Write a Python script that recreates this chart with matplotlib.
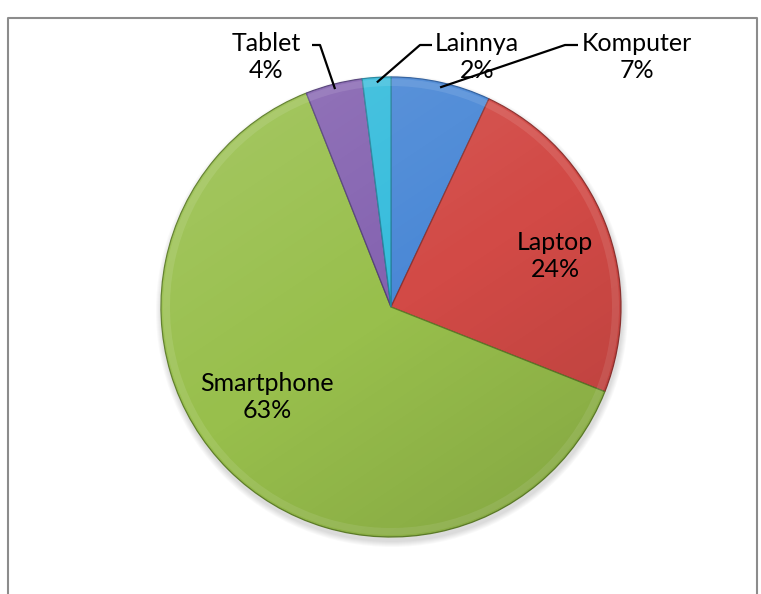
import numpy as np
import matplotlib
matplotlib.use("Agg")
import matplotlib.pyplot as plt
from matplotlib.patches import Wedge, Circle

categories = ["Komputer", "Laptop", "Smartphone", "Tablet", "Lainnya"]
values = [7, 24, 63, 4, 2]
colors = ["#4a88d6", "#d24a46", "#98bf4c", "#8462b0", "#35bcdc"]
edge_colors = ["#2f5f9e", "#8e3230", "#5f7f2a", "#54407a", "#23869e"]

plt.rcParams['font.family'] = ['Lato', 'DejaVu Sans']

W, H = 761, 594
fig = plt.figure(figsize=(W / 100, H / 100), dpi=100)
ax = fig.add_axes([0, 0, 1, 1])

cx, cy, r = 391, H - 307, 230

# soft shadow
for i in range(6):
    sh = Circle((cx + 1, cy - 4), r + 6 - i, color='black', alpha=0.025, lw=0, zorder=0)
    ax.add_patch(sh)

wedges, _ = ax.pie(values, colors=colors, startangle=90, counterclock=False,
                   center=(cx, cy), radius=r,
                   wedgeprops=dict(linewidth=0.9))
for w, ec in zip(wedges, edge_colors):
    w.set_zorder(2)
    w.set_edgecolor(ec)

# bevel highlight near the outer rim
for w in wedges:
    hl = Wedge((cx, cy), r - 2, w.theta1, w.theta2, width=7, facecolor='white', alpha=0.10,
               linewidth=0, zorder=3)
    ax.add_patch(hl)

# lighting gradient: light top-left, darker bottom-right
n = 300
yy, xx = np.mgrid[0:1:n * 1j, 0:1:n * 1j]
light = np.zeros((n, n, 4))
t = (yy * 0.6 - xx * 0.4)
t = (t - t.min()) / (t.max() - t.min())
light[..., :3] = np.where(t[..., None] > 0.5, 1.0, 0.0)
light[..., 3] = np.abs(t - 0.5) * 0.28
im = ax.imshow(light, extent=(cx - r, cx + r, cy - r, cy + r), origin='lower',
               zorder=3.5, interpolation='bilinear')
clip = Circle((cx, cy), r, transform=ax.transData)
im.set_clip_path(clip)

fs = 18
ls = 1.25
total = sum(values)

def mid_angle(i):
    start = 90 - sum(values[:i]) / total * 360
    end = 90 - sum(values[:i + 1]) / total * 360
    return np.deg2rad((start + end) / 2)

# inside labels
ax.text(555, H - 256, f"{categories[1]}\n{values[1]}%", ha='center', va='center',
        fontsize=fs, linespacing=ls, zorder=5)
ax.text(267, H - 397, f"{categories[2]}\n{values[2]}%", ha='center', va='center',
        fontsize=fs, linespacing=ls, zorder=5)

# outside labels with leader lines
outside = {
    0: dict(text_xy=(637, H - 57), elbow=[(578, H - 45), (565, H - 45)]),
    3: dict(text_xy=(266, H - 57), elbow=[(312, H - 45), (320, H - 45)]),
    4: dict(text_xy=(477, H - 57), elbow=[(432, H - 45), (420, H - 45)]),
}
for i, d in outside.items():
    ax.text(d['text_xy'][0], d['text_xy'][1], f"{categories[i]}\n{values[i]}%",
            ha='center', va='center', fontsize=fs, linespacing=ls, zorder=5)
    a = mid_angle(i)
    ex, ey = cx + (r - 5) * np.cos(a), cy + (r - 5) * np.sin(a)
    xs = [d['elbow'][0][0], d['elbow'][1][0], ex]
    ys = [d['elbow'][0][1], d['elbow'][1][1], ey]
    ax.plot(xs, ys, color='black', lw=1.6, zorder=6, solid_capstyle='butt')

# frame (top, left, right; bottom is cut off)
ax.plot([8, 8, 757, 757], [0, H - 18, H - 18, 0], color='#8c8c8c', lw=1.5, zorder=1)

ax.set_xlim(0, W)
ax.set_ylim(0, H)
ax.set_aspect('equal')
ax.axis('off')

fig.savefig("out.png", dpi=100)
